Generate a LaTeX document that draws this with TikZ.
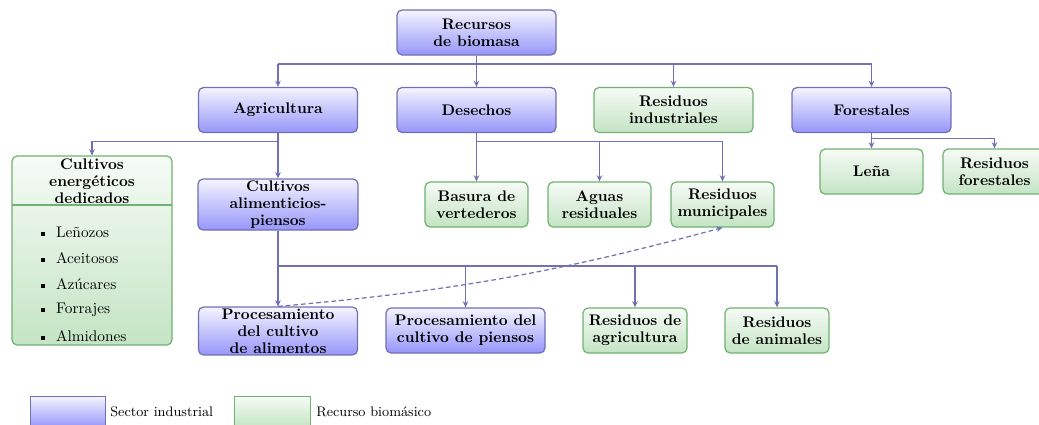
\documentclass[tikz,border=0pt]{standalone}
\usetikzlibrary{arrows.meta}
\definecolor{lineblue}{RGB}{112,112,178}
\definecolor{blueborder}{RGB}{112,112,178}
\definecolor{bluetop}{RGB}{244,244,255}
\definecolor{bluebot}{RGB}{150,150,250}
\definecolor{greenborder}{RGB}{112,178,112}
\definecolor{greentop}{RGB}{246,251,246}
\definecolor{greenbot}{RGB}{196,228,196}
\tikzset{
  base/.style={rounded corners=3.3pt, line width=0.8pt, align=center, inner sep=1pt,
    font=\fontsize{10}{11}\selectfont\bfseries},
  bluebox/.style={base, draw=blueborder, top color=bluetop, bottom color=bluebot},
  greenbox/.style={base, draw=greenborder, top color=greentop, bottom color=greenbot},
  wide/.style={minimum width=103.5pt, minimum height=29.3pt},
  small/.style={minimum width=67pt, minimum height=29.3pt},
  conn/.style={draw=lineblue, line width=0.8pt},
  arr/.style={conn, -{Stealth[length=4pt,width=3.6pt]}},
  item/.style={anchor=west, font=\fontsize{10}{12}\selectfont, inner sep=0pt},
}
\begin{document}
\begin{tikzpicture}[x=0.651pt, y=-0.651pt]
\useasboundingbox (0,0) rectangle (1039,425);
% top level
\node[bluebox, wide] (rec) at (476.5,32.5) {Recursos\\de biomasa};
% second row
\node[bluebox, wide] (agr) at (278,110) {Agricultura};
\node[bluebox, wide] (des) at (476.5,110) {Desechos};
\node[greenbox, wide] (rind) at (673.5,110) {Residuos\\industriales};
\node[bluebox, wide] (for) at (871.5,110) {Forestales};
% cultivos energeticos
\node[greenbox, minimum width=104.2pt, minimum height=123pt] (ced) at (92,250.5) {};
\coordinate (cedl) at (12,205);
\coordinate (cedr) at (172,205);
\draw[draw=greenborder, line width=0.8pt] (cedl) -- (cedr);
\node[base, draw=none] (cedh) at (92,181) {Cultivos\\energéticos\\dedicados};
\node[item] (i1) at (41,232) {\rule[0.25ex]{2.6pt}{2.6pt}\hspace{7pt}Leñozos};
\node[item] (i2) at (41,258) {\rule[0.25ex]{2.6pt}{2.6pt}\hspace{7pt}Aceitosos};
\node[item] (i3) at (41,284) {\rule[0.25ex]{2.6pt}{2.6pt}\hspace{7pt}Azúcares};
\node[item] (i4) at (41,310) {\rule[0.25ex]{2.6pt}{2.6pt}\hspace{7pt}Forrajes};
\node[item] (i5) at (41,336) {\rule[0.25ex]{2.6pt}{2.6pt}\hspace{7pt}Almidones};
% third row
\node[bluebox, minimum width=104.2pt, minimum height=33.2pt] (cap) at (278,204.5) {Cultivos\\alimenticios-\\piensos};
\node[greenbox, small] (bas) at (476.5,204.5) {Basura de\\vertederos};
\node[greenbox, small] (agu) at (599.5,204.5) {Aguas\\residuales};
\node[greenbox, small] (mun) at (722.5,204.5) {Residuos\\municipales};
\node[greenbox, small] (lena) at (871.5,171.5) {Leña};
\node[greenbox, small] (rfor) at (994.5,171.5) {Residuos\\forestales};
% fourth row
\node[bluebox, minimum width=103.5pt, minimum height=31.2pt] (pa) at (278,331) {Procesamiento\\del cultivo\\de alimentos};
\node[bluebox, minimum width=103.5pt, minimum height=29.3pt] (pp) at (465.5,330.5) {Procesamiento del\\cultivo de piensos};
\node[greenbox, minimum width=67.7pt, minimum height=29.3pt] (ragr) at (635,330.5) {Residuos de\\agricultura};
\node[greenbox, minimum width=67.7pt, minimum height=29.3pt] (rani) at (777,330.5) {Residuos\\de animales};
% bus coordinates
\coordinate (b1) at (476.5,64);
\coordinate (b2) at (278,141.5);
\coordinate (b3) at (476.5,141.5);
\coordinate (b4) at (871.5,138.5);
\coordinate (b5) at (278,266);
% connectors
\draw[conn] (rec.south) -- (b1);
\draw[conn] (agr.north |- b1) -- (for.north |- b1);
\draw[arr] (agr.north |- b1) -- (agr.north);
\draw[arr] (b1) -- (des.north);
\draw[arr] (rind.north |- b1) -- (rind.north);
\draw[arr] (for.north |- b1) -- (for.north);
\draw[arr] (agr.south) -- (cap.north);
\draw[conn] (b2) -- (ced.north |- b2);
\draw[arr] (ced.north |- b2) -- (ced.north);
\draw[arr] (des.south) -- (bas.north);
\draw[conn] (b3) -- (mun.north |- b3);
\draw[arr] (agu.north |- b3) -- (agu.north);
\draw[arr] (mun.north |- b3) -- (mun.north);
\draw[arr] (for.south) -- (lena.north);
\draw[conn] (b4) -- (rfor.north |- b4);
\draw[arr] (rfor.north |- b4) -- (rfor.north);
\draw[conn] (cap.south) -- (b5);
\draw[conn] (b5) -- (rani.north |- b5);
\draw[arr] (b5) -- (pa.north);
\draw[arr] (pp.north |- b5) -- (pp.north);
\draw[arr] (ragr.north |- b5) -- (ragr.north);
\draw[arr] (rani.north |- b5) -- (rani.north);
\draw[arr, dash pattern=on 3pt off 2pt] (pa.north) to[bend right=5] (mun.south);
% legend
\node[draw=blueborder, line width=0.6pt, top color=bluetop, bottom color=bluebot, minimum width=48.8pt, minimum height=20pt, inner sep=0pt] (lb) at (67.5,412) {};
\node[anchor=west, font=\small, inner sep=0pt] (lbt) at (110,412) {Sector industrial};
\node[draw=greenborder, line width=0.6pt, top color=greentop, bottom color=greenbot, minimum width=49.5pt, minimum height=20pt, inner sep=0pt] (lg) at (272,412) {};
\node[anchor=west, font=\small, inner sep=0pt] (lgt) at (316,412) {Recurso biomásico};
\end{tikzpicture}
\end{document}
